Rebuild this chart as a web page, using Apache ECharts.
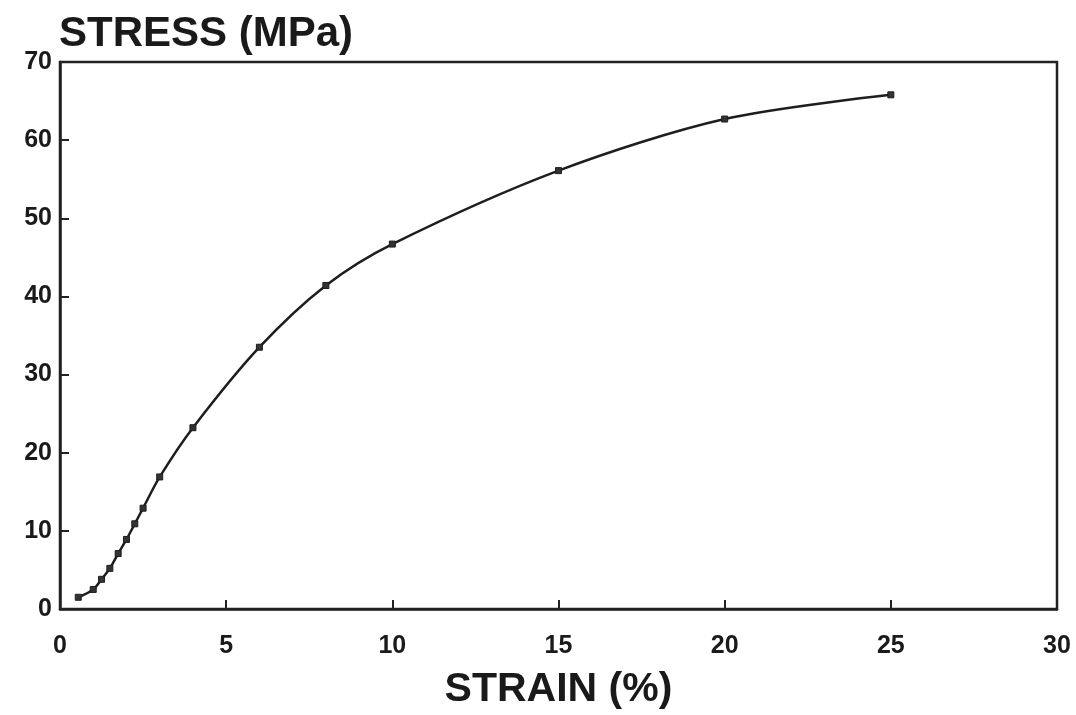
<!DOCTYPE html>
<html>
<head>
<meta charset="utf-8">
<script src="https://cdn.jsdelivr.net/npm/echarts@6/dist/echarts.min.js"></script>
<style>
html,body{margin:0;padding:0;background:#fff;}
#chart{width:1076px;height:715px;}
</style>
</head>
<body>
<div id="chart"></div>
<script>
// Strain (%) and stress (MPa)
const strain = [0.55, 1.0, 1.25, 1.5, 1.75, 2.0, 2.25, 2.5, 3.0, 4.0, 6.0, 8.0, 10.0, 15.0, 20.0, 25.0];
const stress = [1.5, 2.5, 3.8, 5.2, 7.1, 8.9, 10.9, 12.9, 16.9, 23.2, 33.5, 41.4, 46.7, 56.1, 62.7, 65.8];
const xTicks = [0, 5, 10, 15, 20, 25, 30];
const yTicks = [0, 10, 20, 30, 40, 50, 60, 70];

const font = '"Liberation Sans", Arial, sans-serif';
const chart = echarts.init(document.getElementById('chart'));
chart.setOption({
  backgroundColor: '#ffffff',
  animation: false,
  title: {
    text: 'STRESS (MPa)',
    left: 54, top: 8,
    textStyle: {fontFamily: font, fontWeight: 'bold', fontSize: 42, color: '#1a1a1a'}
  },
  grid: {
    left: 60, right: 19, top: 62, bottom: 100,
    show: true, borderColor: '#222', borderWidth: 2.5, backgroundColor: 'transparent'
  },
  xAxis: {
    type: 'value', min: xTicks[0], max: xTicks[xTicks.length - 1], interval: 5,
    name: 'STRAIN (%)', nameLocation: 'middle', nameGap: 60,
    nameTextStyle: {fontFamily: font, fontWeight: 'bold', fontSize: 41, color: '#1a1a1a'},
    axisLine: {show: true, lineStyle: {color: '#222', width: 2.5}},
    axisTick: {show: true, inside: true, length: 9, lineStyle: {color: '#222', width: 2}},
    axisLabel: {fontFamily: font, fontWeight: 'bold', fontSize: 25, color: '#1a1a1a', margin: 25},
    splitLine: {show: false}
  },
  yAxis: {
    type: 'value', min: yTicks[0], max: yTicks[yTicks.length - 1], interval: 10,
    axisLine: {show: true, lineStyle: {color: '#222', width: 2.5}},
    axisTick: {show: true, inside: true, length: 9, lineStyle: {color: '#222', width: 2}},
    axisLabel: {fontFamily: font, fontWeight: 'bold', fontSize: 25, color: '#1a1a1a', margin: 8},
    splitLine: {show: false}
  },
  series: [{
    type: 'line',
    data: strain.map((x, i) => [x, stress[i]]),
    smooth: 0.3,
    symbol: 'rect',
    symbolSize: 6,
    showSymbol: true,
    lineStyle: {color: '#1e1e1e', width: 2.5},
    itemStyle: {color: '#333', borderColor: '#1e1e1e', borderWidth: 1}
  }]
});
</script>
</body>
</html>
